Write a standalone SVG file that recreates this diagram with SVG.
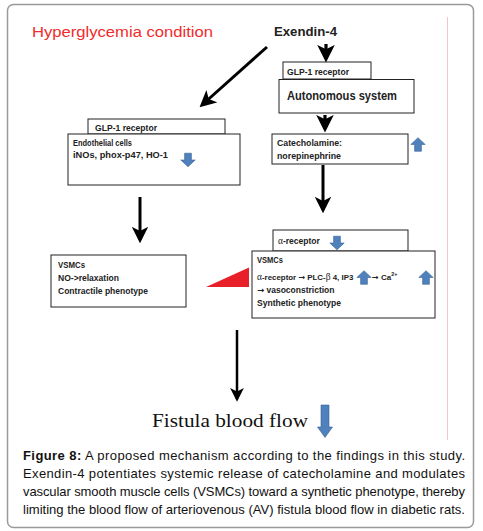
<svg xmlns="http://www.w3.org/2000/svg" width="483" height="531" viewBox="0 0 483 531">
<defs>
<style>
.box{fill:#fff;stroke:#222;stroke-width:1}
.t{font-family:"Liberation Sans",Arial,sans-serif;font-weight:bold;fill:#222}
.ar{font-family:"DejaVu Sans",sans-serif;font-weight:bold}
.gk{font-family:"Liberation Serif",serif;font-weight:normal;font-size:9.5px}
.cap{font-family:"Liberation Sans",Arial,sans-serif;font-size:13px;fill:#111}
.ln{stroke:#000;fill:none}
.blue{fill:#4f81bd;stroke:#3a6394;stroke-width:0.6}
</style>
<marker id="ah" viewBox="0 0 10 10" refX="8" refY="5" markerWidth="5.5" markerHeight="5.5" orient="auto" markerUnits="strokeWidth">
<path d="M0,0 L10,5 L0,10 L2.5,5 Z" fill="#000"/>
</marker>
<path id="bdown" d="M-3.4,-6.8 H3.4 V0 H7.2 L0,6.8 L-7.2,0 H-3.4 Z"/>
</defs>
<rect x="0" y="0" width="483" height="531" fill="#fff"/>
<rect x="7.5" y="4.5" width="466" height="523" rx="6" fill="#fff" stroke="#9a9a9a" stroke-width="1.5"/>
<line x1="447.5" y1="17" x2="447.5" y2="440" stroke="#f4c4c8" stroke-width="1"/>

<g id="title">
<text x="32" y="37" font-family="Liberation Sans,Arial,sans-serif" font-size="15.5" fill="#f22b2b" textLength="181" lengthAdjust="spacingAndGlyphs">Hyperglycemia condition</text>
</g>
<g id="exendin">
<text class="t" x="274" y="36" font-size="12.5" textLength="63" lengthAdjust="spacingAndGlyphs">Exendin-4</text>
</g>

<g id="glp1-right">
<rect class="box" x="283" y="62" width="88" height="17"/>
<text class="t" x="287" y="74.5" font-size="8.5" textLength="62" lengthAdjust="spacingAndGlyphs">GLP-1 receptor</text>
</g>
<g id="autonomous">
<rect class="box" x="279" y="79.5" width="135" height="33.5"/>
<text class="t" x="287" y="100" font-size="12" textLength="110" lengthAdjust="spacingAndGlyphs">Autonomous system</text>
</g>
<g id="catecholamine">
<rect class="box" x="272" y="134" width="136" height="30"/>
<text class="t" x="277" y="146" font-size="8.5" textLength="65" lengthAdjust="spacingAndGlyphs">Catecholamine:</text>
<text class="t" x="277" y="159" font-size="8.5" textLength="64" lengthAdjust="spacingAndGlyphs">norepinephrine</text>
<use href="#bdown" class="blue" transform="translate(418,144.5) rotate(180)"/>
</g>

<g id="glp1-left">
<rect class="box" x="88" y="119" width="137" height="15"/>
<text class="t" x="95" y="130.5" font-size="8.5" textLength="62" lengthAdjust="spacingAndGlyphs">GLP-1 receptor</text>
</g>
<g id="endothelial">
<rect class="box" x="68" y="134" width="172" height="51"/>
<text class="t" x="73" y="146" font-size="8.5" textLength="59" lengthAdjust="spacingAndGlyphs">Endothelial cells</text>
<text class="t" x="73" y="158" font-size="8.5" textLength="95" lengthAdjust="spacingAndGlyphs">iNOs, phox-p47, HO-1</text>
<use href="#bdown" class="blue" transform="translate(188,160)"/>
</g>

<g id="vsmc-left">
<rect class="box" x="51" y="255" width="135" height="52"/>
<text class="t" x="58" y="268" font-size="8.5" textLength="27" lengthAdjust="spacingAndGlyphs">VSMCs</text>
<text class="t" x="58" y="281" font-size="8.5" textLength="61" lengthAdjust="spacingAndGlyphs">NO-&gt;relaxation</text>
<text class="t" x="58" y="294" font-size="8.5" textLength="90" lengthAdjust="spacingAndGlyphs">Contractile phenotype</text>
</g>

<g id="wedge">
<polygon points="206,287 249,267.5 249,287" fill="#e8202a"/>
</g>

<g id="alpha-receptor">
<rect class="box" x="273" y="230" width="135" height="21"/>
<text class="t" x="278" y="244" font-size="8.5"><tspan class="gk">α</tspan>-receptor</text>
<use href="#bdown" class="blue" transform="translate(337,243)"/>
</g>

<g id="vsmc-right">
<rect class="box" x="252" y="251" width="183" height="67"/>
<text class="t" x="257" y="263" font-size="8.5" textLength="26" lengthAdjust="spacingAndGlyphs">VSMCs</text>
<text class="t" x="257" y="280" font-size="7.9"><tspan class="gk">α</tspan>-receptor <tspan class="ar">→</tspan> PLC-<tspan class="gk">β</tspan> 4, IP3</text>
<use href="#bdown" class="blue" transform="translate(364,277.5) rotate(180)"/>
<text class="t" x="372" y="280" font-size="8"><tspan class="ar">→</tspan> Ca<tspan font-size="5.5" dy="-4">2+</tspan></text>
<use href="#bdown" class="blue" transform="translate(426,277.5) rotate(180)"/>
<text class="t" x="257" y="293" font-size="8.5"><tspan class="ar">→</tspan> vasoconstriction</text>
<text class="t" x="257" y="306" font-size="8.5" textLength="84" lengthAdjust="spacingAndGlyphs">Synthetic phenotype</text>
</g>

<g id="fistula">
<text x="152" y="427" font-family="Liberation Serif,Times New Roman,serif" font-size="18.5" fill="#111" textLength="156" lengthAdjust="spacingAndGlyphs">Fistula blood flow</text>
<path class="blue" d="M321,405 H329 V427 H332.5 L325,437.5 L317.5,427 H321 Z"/>
</g>

<g id="connectors">
<line class="ln" x1="267" y1="47" x2="202" y2="105" stroke-width="3" marker-end="url(#ah)"/>
<line class="ln" x1="326" y1="44" x2="326" y2="59" stroke-width="3.2" marker-end="url(#ah)"/>
<line class="ln" x1="325" y1="115" x2="325" y2="129" stroke-width="3.2" marker-end="url(#ah)"/>
<line class="ln" x1="323" y1="165" x2="323" y2="210" stroke-width="3" marker-end="url(#ah)"/>
<line class="ln" x1="140" y1="197" x2="140" y2="240" stroke-width="3" marker-end="url(#ah)"/>
<line class="ln" x1="237" y1="330" x2="237" y2="399" stroke-width="2.5" marker-end="url(#ah)"/>
</g>

<g id="caption">
<text class="cap" x="23" y="460" textLength="442" lengthAdjust="spacing"><tspan font-weight="bold">Figure 8:</tspan> A proposed mechanism according to the findings in this study.</text>
<text class="cap" x="23" y="478" textLength="442" lengthAdjust="spacing">Exendin-4 potentiates systemic release of catecholamine and modulates</text>
<text class="cap" x="23" y="496" textLength="442" lengthAdjust="spacing">vascular smooth muscle cells (VSMCs) toward a synthetic phenotype, thereby</text>
<text class="cap" x="23" y="514" textLength="442" lengthAdjust="spacingAndGlyphs">limiting the blood flow of arteriovenous (AV) fistula blood flow in diabetic rats.</text>
</g>
</svg>
